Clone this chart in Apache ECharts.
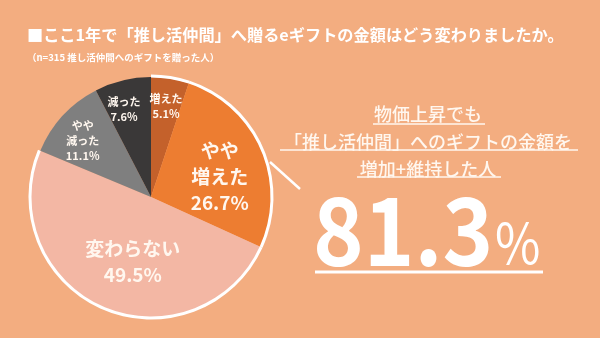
<!DOCTYPE html>
<html><head><meta charset="utf-8">
<script src="https://cdn.jsdelivr.net/npm/echarts@6/dist/echarts.min.js"></script>
<style>html,body{margin:0;padding:0;background:#F3AD80}#c{width:600px;height:338px}</style>
</head><body><div id="c"></div>
<script>
// ---- data ----
const categories = ['増えた', 'やや増えた', '変わらない', 'やや減った', '減った'];
const values = [5.1, 26.7, 49.5, 11.1, 7.6];
const highlighted = [true, true, true, false, false]; // 増加+維持
const titleText = '■ここ1年で「推し活仲間」へ贈るeギフトの金額はどう変わりましたか。';
const subText = '（n=315 推し活仲間へのギフトを贈った人）';
const calloutLines = ['物価上昇でも', '「推し活仲間」へのギフトの金額を', '増加+維持した人'];
const headlineValue = '81.3';

// ---- styles ----
const FONT = '"Noto Sans CJK JP", "Noto Sans", sans-serif';
const sliceColors = ['#C4612B', '#ED7D31', '#F3B7A4', '#7F7F7F', '#3A3838'];
const bigLabel = [false, true, true, false, false];
const labelShift = [[5, -28], [11, 5], [7, 7], [-22, -13], [-12, -26]];
const TXT = '#FFF7EF';

const chart = echarts.init(document.getElementById('c'), null, {renderer: 'canvas'});

const pieData = categories.map((name, i) => ({
  name, value: values[i],
  itemStyle: {color: sliceColors[i]},
  label: {
    fontSize: bigLabel[i] ? 19 : 11,
    lineHeight: bigLabel[i] ? 26 : 15,
  }
}));

const ringData = categories.map((name, i) => ({
  name, value: values[i],
  itemStyle: {color: highlighted[i] ? '#FFFFFF' : 'rgba(0,0,0,0)'}
}));

chart.setOption({
  backgroundColor: '#F3AD80',
  animation: false,
  title: {
    text: titleText,
    subtext: subText,
    left: 22, top: 22,
    itemGap: 9,
    textStyle: {fontFamily: FONT, fontSize: 16.2, fontWeight: 'bold', color: '#FFFFFF'},
    subtextStyle: {fontFamily: FONT, fontSize: 9.5, fontWeight: 'bold', color: '#FFFFFF'}
  },
  series: [
    {
      type: 'pie', silent: true,
      center: [151, 197], radius: [0, 120],
      startAngle: 90, clockwise: true,
      data: pieData,
      label: {
        show: true, position: 'inside',
        fontFamily: FONT, fontWeight: 'bold', color: TXT,
        formatter: p => p.name.replace('やや', 'やや\n') + '\n' + p.value.toFixed(1) + '%'
      },
      labelLine: {show: false},
      labelLayout: p => ({dx: labelShift[p.dataIndex][0], dy: labelShift[p.dataIndex][1]})
    },
    {
      type: 'pie', silent: true,
      center: [151, 197], radius: [119.5, 122.5],
      startAngle: 90, clockwise: true,
      data: ringData,
      label: {show: false}, labelLine: {show: false}
    }
  ],
  graphic: [
    {type: 'line', shape: {x1: 270, y1: 162, x2: 300, y2: 189}, style: {stroke: '#FFFFFF', lineWidth: 2.5}},
    {type: 'text', x: 428, y: 114, style: {text: calloutLines[0], fill: TXT, font: '500 18px ' + FONT, textAlign: 'center', textVerticalAlign: 'middle'}},
    {type: 'text', x: 428, y: 142, style: {text: calloutLines[1], fill: TXT, font: '500 18px ' + FONT, textAlign: 'center', textVerticalAlign: 'middle'}},
    {type: 'text', x: 428, y: 169, style: {text: calloutLines[2], fill: TXT, font: '500 18px ' + FONT, textAlign: 'center', textVerticalAlign: 'middle'}},
    {type: 'line', shape: {x1: 373, y1: 124, x2: 485, y2: 124}, style: {stroke: TXT, lineWidth: 1.5}},
    {type: 'line', shape: {x1: 280, y1: 150, x2: 578, y2: 150}, style: {stroke: TXT, lineWidth: 1.5}},
    {type: 'line', shape: {x1: 357, y1: 177, x2: 501, y2: 177}, style: {stroke: TXT, lineWidth: 1.5}},
    {type: 'text', x: 313, y: 230, scaleX: 0.915, style: {text: headlineValue, fill: '#FFFFFF', font: 'bold 94px ' + FONT, textAlign: 'left', textVerticalAlign: 'middle'}},
    {type: 'text', x: 495, y: 243, scaleX: 0.88, style: {text: '%', fill: '#FFFFFF', font: '56px ' + FONT, textAlign: 'left', textVerticalAlign: 'middle'}},
    {type: 'line', shape: {x1: 315, y1: 272, x2: 543, y2: 272}, style: {stroke: '#FFFFFF', lineWidth: 3}}
  ]
});
</script></body></html>
